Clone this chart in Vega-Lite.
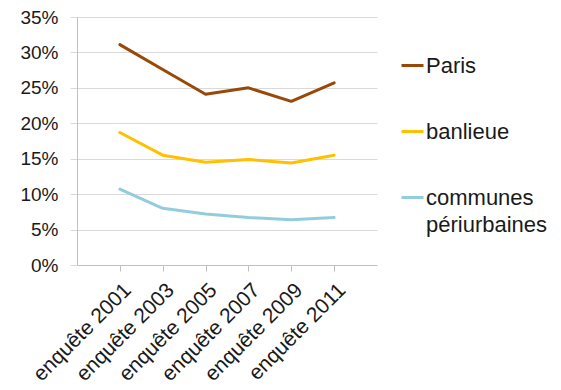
{
  "$schema": "https://vega.github.io/schema/vega-lite/v6.json",
  "width": 300,
  "height": 248,
  "autosize": "none",
  "padding": {"left": 77, "top": 17, "right": 184, "bottom": 125},
  "background": "white",
  "config": {
    "view": {"stroke": null},
    "font": "Liberation Sans"
  },
  "data": {
    "values": [
      {"enquete": "enquête 2001", "zone": "Paris", "part": 0.311},
      {"enquete": "enquête 2003", "zone": "Paris", "part": 0.276},
      {"enquete": "enquête 2005", "zone": "Paris", "part": 0.241},
      {"enquete": "enquête 2007", "zone": "Paris", "part": 0.250},
      {"enquete": "enquête 2009", "zone": "Paris", "part": 0.231},
      {"enquete": "enquête 2011", "zone": "Paris", "part": 0.257},
      {"enquete": "enquête 2001", "zone": "banlieue", "part": 0.187},
      {"enquete": "enquête 2003", "zone": "banlieue", "part": 0.155},
      {"enquete": "enquête 2005", "zone": "banlieue", "part": 0.145},
      {"enquete": "enquête 2007", "zone": "banlieue", "part": 0.149},
      {"enquete": "enquête 2009", "zone": "banlieue", "part": 0.144},
      {"enquete": "enquête 2011", "zone": "banlieue", "part": 0.155},
      {"enquete": "enquête 2001", "zone": "communes périurbaines", "part": 0.107},
      {"enquete": "enquête 2003", "zone": "communes périurbaines", "part": 0.080},
      {"enquete": "enquête 2005", "zone": "communes périurbaines", "part": 0.072},
      {"enquete": "enquête 2007", "zone": "communes périurbaines", "part": 0.067},
      {"enquete": "enquête 2009", "zone": "communes périurbaines", "part": 0.064},
      {"enquete": "enquête 2011", "zone": "communes périurbaines", "part": 0.067}
    ]
  },
  "mark": {"type": "line", "strokeWidth": 3, "strokeCap": "round", "strokeJoin": "round"},
  "encoding": {
    "x": {
      "field": "enquete",
      "type": "ordinal",
      "scale": {"type": "point", "padding": 1},
      "axis": {
        "title": null,
        "labelAngle": -45,
        "labelAlign": "right",
        "labelBaseline": "top",
        "labelFontSize": 21,
        "labelColor": "#1a1a1a",
        "labelPadding": 8,
        "domainColor": "#BFBFBF",
        "tickColor": "#BFBFBF",
        "tickSize": 6,
        "grid": false
      }
    },
    "y": {
      "field": "part",
      "type": "quantitative",
      "scale": {"domain": [0, 0.35]},
      "axis": {
        "title": null,
        "format": ".0%",
        "values": [0, 0.05, 0.1, 0.15, 0.2, 0.25, 0.3, 0.35],
        "labelFontSize": 19,
        "labelColor": "#1a1a1a",
        "labelPadding": 12,
        "domainColor": "#BFBFBF",
        "tickColor": "#D9D9D9",
        "tickSize": 7,
        "gridColor": "#D9D9D9",
        "gridWidth": 1
      }
    },
    "color": {
      "field": "zone",
      "type": "nominal",
      "scale": {
        "domain": ["Paris", "banlieue", "communes périurbaines"],
        "range": ["#984807", "#FFC000", "#93CDDD"]
      },
      "legend": {
        "title": null,
        "orient": "none",
        "legendX": 323,
        "legendY": 36,
        "symbolType": "stroke",
        "symbolSize": 484,
        "symbolStrokeWidth": 3,
        "labelFontSize": 22,
        "labelColor": "#1a1a1a",
        "labelOffset": 1,
        "labelLimit": 200,
        "rowPadding": 42,
        "labelExpr": "datum.label == 'communes périurbaines' ? ['communes', 'périurbaines'] : datum.label",
        "encode": {"labels": {"update": {"lineHeight": {"value": 27}}}}
      }
    }
  }
}
